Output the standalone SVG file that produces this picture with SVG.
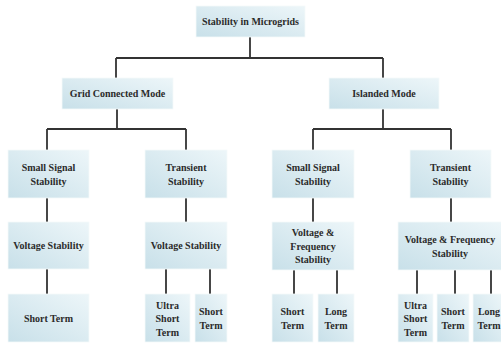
<svg xmlns="http://www.w3.org/2000/svg" width="501" height="345" viewBox="0 0 501 345">
<style>
.box{fill:url(#g);stroke:#f4f9fb;stroke-width:0.8}
.t{font-family:"Liberation Serif","Times New Roman",serif;font-weight:bold;font-size:10px;fill:#2b2b2b;text-anchor:middle}
.c{stroke:#333;stroke-width:1.8;fill:none}
</style>
<defs>
<linearGradient id="g" x1="0" y1="1" x2="1" y2="0">
<stop offset="0" stop-color="#c8e0e9"/>
<stop offset="1" stop-color="#edf6f9"/>
</linearGradient>
</defs>
<rect width="501" height="345" fill="#fff"/>
<g id="connectors" class="c">
<path d="M250,37V58M116,58H383M116,58V78M383,58V78"/>
<path d="M117,109V129M47,129H186M47,129V150M186,129V150"/>
<path d="M383,109V129M313,129H451M313,129V150M451,129V150"/>
<path d="M47,198V222M186,198V222M313,198V222M451,198V222"/>
<path d="M47,269V294M166,269V294M210,269V294M294,270V294M337,270V294M417,270V294M455,270V294M491,270V294"/>
</g>
<g id="root"><rect class="box" x="196" y="6" width="109" height="31"/><text class="t" x="250.5" y="25">Stability in Microgrids</text></g>
<g id="grid"><rect class="box" x="62" y="78" width="111" height="31"/><text class="t" x="117.5" y="97">Grid Connected Mode</text></g>
<g id="islanded"><rect class="box" x="329" y="78" width="110" height="31"/><text class="t" x="384" y="97">Islanded Mode</text></g>
<g id="gc-ss"><rect class="box" x="8" y="150" width="81" height="48"/><text class="t" x="48.5" y="171">Small Signal</text><text class="t" x="48.5" y="185">Stability</text></g>
<g id="gc-tr"><rect class="box" x="145" y="150" width="82" height="48"/><text class="t" x="186" y="171">Transient</text><text class="t" x="186" y="185">Stability</text></g>
<g id="is-ss"><rect class="box" x="272" y="150" width="82" height="48"/><text class="t" x="313" y="171">Small Signal</text><text class="t" x="313" y="185">Stability</text></g>
<g id="is-tr"><rect class="box" x="410" y="150" width="81" height="48"/><text class="t" x="450.5" y="171">Transient</text><text class="t" x="450.5" y="185">Stability</text></g>
<g id="gc-ss-v"><rect class="box" x="8" y="222" width="81" height="47"/><text class="t" x="48.5" y="249">Voltage Stability</text></g>
<g id="gc-tr-v"><rect class="box" x="145" y="222" width="82" height="47"/><text class="t" x="186" y="249">Voltage Stability</text></g>
<g id="is-ss-vf"><rect class="box" x="272" y="222" width="82" height="48"/><text class="t" x="313" y="236">Voltage &amp;</text><text class="t" x="313" y="249.5">Frequency</text><text class="t" x="313" y="263">Stability</text></g>
<g id="is-tr-vf"><rect class="box" x="398" y="222" width="104" height="48"/><text class="t" x="450" y="243">Voltage &amp; Frequency</text><text class="t" x="450" y="257">Stability</text></g>
<g id="gc-ss-st"><rect class="box" x="8" y="294" width="81" height="48"/><text class="t" x="48.5" y="322">Short Term</text></g>
<g id="gc-tr-ust"><rect class="box" x="145" y="294" width="45" height="48"/><text class="t" x="167.5" y="308.5">Ultra</text><text class="t" x="167.5" y="322">Short</text><text class="t" x="167.5" y="335.5">Term</text></g>
<g id="gc-tr-st"><rect class="box" x="195" y="294" width="32" height="48"/><text class="t" x="211" y="315">Short</text><text class="t" x="211" y="329">Term</text></g>
<g id="is-ss-st"><rect class="box" x="272" y="294" width="41" height="48"/><text class="t" x="292.5" y="315">Short</text><text class="t" x="292.5" y="329">Term</text></g>
<g id="is-ss-lt"><rect class="box" x="318" y="294" width="36" height="48"/><text class="t" x="336" y="315">Long</text><text class="t" x="336" y="329">Term</text></g>
<g id="is-tr-ust"><rect class="box" x="398" y="294" width="35" height="48"/><text class="t" x="415.5" y="308.5">Ultra</text><text class="t" x="415.5" y="322">Short</text><text class="t" x="415.5" y="335.5">Term</text></g>
<g id="is-tr-st"><rect class="box" x="437" y="294" width="32" height="48"/><text class="t" x="453" y="315">Short</text><text class="t" x="453" y="329">Term</text></g>
<g id="is-tr-lt"><rect class="box" x="473" y="294" width="30" height="48"/><text class="t" x="489" y="315">Long</text><text class="t" x="489" y="329">Term</text></g>
</svg>
